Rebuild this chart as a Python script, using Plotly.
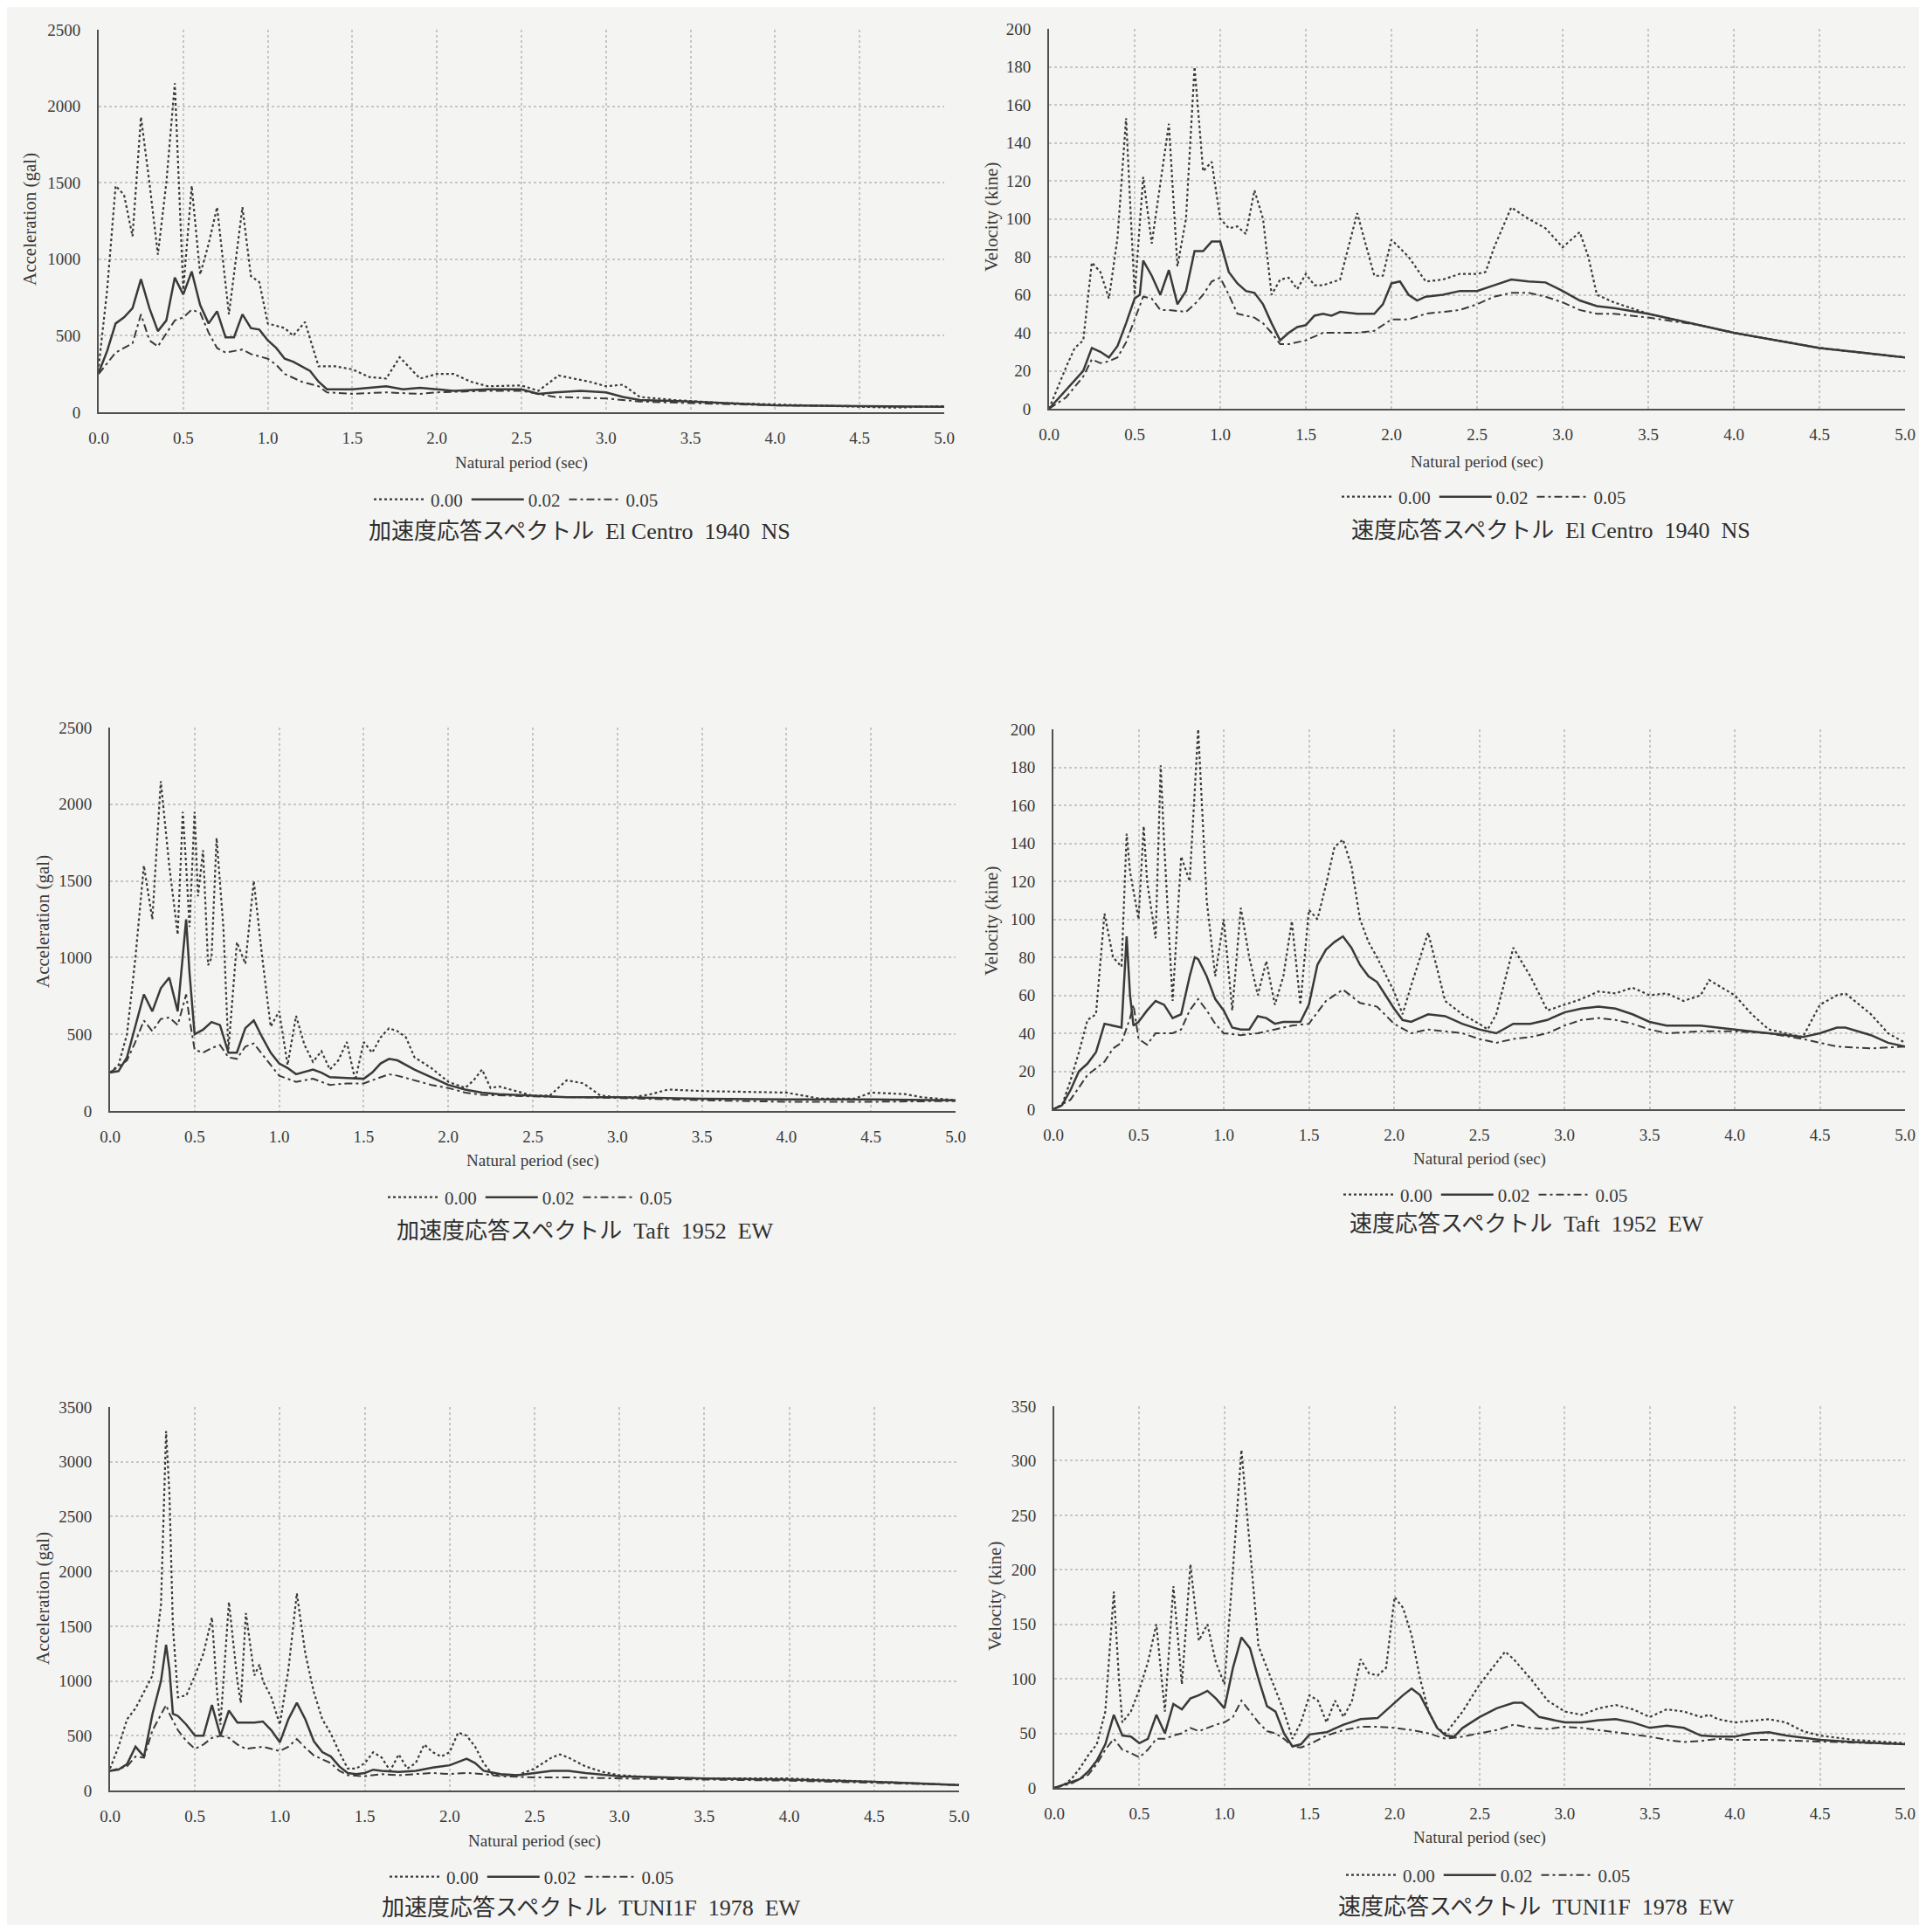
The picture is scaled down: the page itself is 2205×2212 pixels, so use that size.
import plotly.graph_objects as go

# ---------------- data ----------------
# El Centro 1940 NS - acceleration (gal)
EC_ACC_T00 = [0, 0.05, 0.1, 0.15, 0.2, 0.25, 0.3, 0.35, 0.4, 0.45, 0.5, 0.55, 0.6, 0.65, 0.7, 0.77, 0.85, 0.9, 0.95, 1.0,
              1.1, 1.15, 1.22, 1.3, 1.4, 1.5, 1.6, 1.7, 1.78, 1.9, 2.0, 2.1, 2.2, 2.3, 2.5, 2.6, 2.72, 2.9, 3.0, 3.1,
              3.2, 3.4, 3.7, 4.0, 4.3, 4.7, 5.0]
EC_ACC_V00 = [300, 800, 1480, 1420, 1150, 1930, 1500, 1030, 1500, 2150, 800, 1480, 900, 1100, 1340, 640, 1340, 890, 850, 580,
              550, 500, 590, 300, 300, 280, 230, 220, 360, 220, 250, 250, 200, 170, 175, 140, 240, 200, 170, 180,
              100, 80, 60, 50, 40, 30, 40]
EC_ACC_T02 = [0, 0.05, 0.1, 0.15, 0.2, 0.25, 0.3, 0.35, 0.4, 0.45, 0.5, 0.55, 0.6, 0.65, 0.7, 0.75, 0.8, 0.85, 0.9, 0.95,
              1.0, 1.05, 1.1, 1.15, 1.25, 1.3, 1.35, 1.5, 1.6, 1.7, 1.8, 1.9, 2.0, 2.1, 2.3, 2.5, 2.6, 2.7, 2.85, 3.0,
              3.1, 3.2, 3.5, 3.8, 4.0, 4.5, 5.0]
EC_ACC_V02 = [260, 400, 580, 620, 680, 870, 680, 530, 600, 880, 770, 920, 700, 580, 660, 490, 490, 640, 550, 540,
              470, 420, 350, 330, 270, 200, 150, 150, 160, 170, 150, 160, 150, 140, 150, 150, 120, 130, 140, 130,
              100, 80, 70, 55, 45, 40, 35]
EC_ACC_T05 = [0, 0.1, 0.2, 0.25, 0.3, 0.35, 0.45, 0.5, 0.55, 0.6, 0.65, 0.7, 0.75, 0.85, 0.9, 1.0, 1.05, 1.1, 1.2, 1.3,
              1.35, 1.5, 1.7, 1.9, 2.0, 2.3, 2.5, 2.7, 3.0, 3.2, 3.5, 4.0, 4.5, 5.0]
EC_ACC_V05 = [250, 390, 450, 640, 470, 430, 600, 620, 670, 650, 520, 420, 390, 410, 380, 350, 310, 250, 200, 170,
              130, 120, 130, 120, 130, 140, 140, 100, 90, 70, 60, 45, 40, 35]

# El Centro 1940 NS - velocity (kine)
EC_VEL_T00 = [0, 0.1, 0.15, 0.2, 0.25, 0.3, 0.35, 0.4, 0.45, 0.5, 0.55, 0.6, 0.7, 0.75, 0.8, 0.85, 0.9, 0.95, 1.0, 1.05,
              1.1, 1.15, 1.2, 1.25, 1.3, 1.35, 1.4, 1.45, 1.5, 1.55, 1.6, 1.7, 1.8, 1.9, 1.95, 2.0, 2.1, 2.2, 2.3, 2.4,
              2.5, 2.55, 2.6, 2.7, 2.8, 2.9, 3.0, 3.1, 3.15, 3.2, 3.3, 3.5, 3.8, 4.0, 4.25, 4.5, 4.75, 5.0]
EC_VEL_V00 = [0, 22, 32, 36, 77, 72, 58, 90, 153, 60, 122, 87, 150, 75, 100, 180, 125, 130, 100, 95,
              96, 92, 115, 100, 60, 68, 69, 63, 71, 65, 65, 68, 103, 70, 70, 89, 80, 67, 68, 71,
              71, 72, 85, 106, 100, 95, 85, 93, 80, 60, 56, 50, 44, 40, 36, 32, 29.5, 27]
EC_VEL_T02 = [0, 0.1, 0.2, 0.25, 0.3, 0.35, 0.4, 0.45, 0.5, 0.53, 0.55, 0.6, 0.65, 0.7, 0.75, 0.8, 0.85, 0.9, 0.95, 1.0,
              1.05, 1.1, 1.15, 1.2, 1.25, 1.3, 1.35, 1.4, 1.45, 1.5, 1.55, 1.6, 1.65, 1.7, 1.8, 1.9, 1.95, 2.0, 2.05, 2.1,
              2.15, 2.2, 2.3, 2.4, 2.5, 2.6, 2.7, 2.8, 2.9, 3.0, 3.1, 3.2, 3.3, 3.5, 3.8, 4.0, 4.25, 4.5, 4.75, 5.0]
EC_VEL_V02 = [0, 10, 20, 32, 30, 27, 33, 45, 58, 60, 78, 70, 60, 73, 55, 62, 83, 83, 88, 88,
              72, 66, 62, 61, 55, 45, 36, 40, 43, 44, 49, 50, 49, 51, 50, 50, 55, 66, 67, 60,
              57, 59, 60, 62, 62, 65, 68, 67, 66.5, 62, 57, 54, 53, 50, 44, 40, 36, 32, 29.5, 27]
EC_VEL_T05 = [0, 0.1, 0.2, 0.25, 0.3, 0.35, 0.4, 0.45, 0.5, 0.55, 0.6, 0.65, 0.7, 0.8, 0.85, 0.9, 0.95, 1.0, 1.05, 1.1,
              1.2, 1.25, 1.3, 1.35, 1.4, 1.5, 1.6, 1.7, 1.8, 1.9, 2.0, 2.1, 2.2, 2.3, 2.4, 2.5, 2.6, 2.7, 2.8, 2.9,
              3.0, 3.1, 3.2, 3.3, 3.5, 3.8, 4.0, 4.25, 4.5, 4.75, 5.0]
EC_VEL_V05 = [0, 6, 17, 26, 24, 25, 27, 35, 47, 59, 58, 52, 52, 51, 55, 60, 67, 69, 60, 50,
              48, 45, 40, 34, 34, 36, 40, 40, 40, 41, 47, 47, 50, 51, 52, 55, 59, 61, 61, 59,
              56, 52, 50, 50, 48, 44, 40, 36, 32, 29.5, 27]

# Taft 1952 EW - acceleration (gal)
TF_ACC_T00 = [0, 0.05, 0.1, 0.15, 0.2, 0.22, 0.25, 0.3, 0.35, 0.4, 0.43, 0.45, 0.47, 0.5, 0.52, 0.55, 0.58, 0.6, 0.63, 0.67,
              0.7, 0.75, 0.8, 0.85, 0.9, 0.95, 1.0, 1.05, 1.1, 1.15, 1.2, 1.25, 1.3, 1.35, 1.4, 1.45, 1.5, 1.55, 1.6, 1.65,
              1.7, 1.75, 1.8, 1.9, 2.0, 2.1, 2.15, 2.2, 2.25, 2.3, 2.4, 2.5, 2.6, 2.7, 2.8, 2.9, 3.0, 3.1, 3.2, 3.3,
              3.5, 3.7, 4.0, 4.2, 4.4, 4.5, 4.7, 4.8, 5.0]
TF_ACC_V00 = [250, 300, 500, 1000, 1600, 1450, 1250, 2150, 1600, 1150, 1950, 1600, 1200, 1950, 1400, 1700, 950, 1000, 1780, 1200,
              400, 1100, 960, 1500, 1000, 550, 650, 300, 620, 430, 320, 390, 270, 330, 450, 200, 450, 380, 480, 540,
              520, 480, 350, 280, 190, 150, 200, 270, 150, 160, 130, 100, 100, 200, 180, 100, 90, 90, 110, 140,
              130, 125, 120, 80, 80, 120, 110, 90, 70]
TF_ACC_T02 = [0, 0.05, 0.1, 0.15, 0.2, 0.25, 0.3, 0.35, 0.4, 0.45, 0.47, 0.5, 0.55, 0.6, 0.65, 0.7, 0.75, 0.8, 0.85, 0.9,
              0.95, 1.0, 1.05, 1.1, 1.2, 1.25, 1.3, 1.4, 1.5, 1.55, 1.6, 1.65, 1.7, 1.8, 1.9, 2.0, 2.1, 2.2, 2.3, 2.5,
              2.7, 3.0, 3.5, 4.0, 4.5, 5.0]
TF_ACC_V02 = [250, 260, 350, 550, 760, 650, 800, 870, 650, 1250, 900, 500, 530, 580, 560, 380, 380, 540, 590, 480,
              380, 310, 280, 240, 270, 250, 220, 215, 210, 250, 310, 340, 330, 270, 220, 170, 140, 120, 110, 100,
              90, 90, 80, 75, 75, 70]
TF_ACC_T05 = [0, 0.1, 0.15, 0.2, 0.25, 0.3, 0.35, 0.4, 0.45, 0.47, 0.5, 0.55, 0.6, 0.65, 0.7, 0.75, 0.8, 0.85, 0.9, 1.0,
              1.1, 1.2, 1.3, 1.4, 1.5, 1.6, 1.65, 1.7, 1.8, 1.9, 2.0, 2.1, 2.2, 2.5, 3.0, 3.5, 4.0, 4.5, 5.0]
TF_ACC_V05 = [250, 330, 450, 590, 520, 600, 610, 560, 760, 600, 400, 380, 410, 430, 350, 340, 420, 440, 370, 230,
              190, 210, 170, 180, 180, 220, 240, 230, 200, 170, 150, 120, 105, 95, 85, 70, 60, 60, 65]

# Taft 1952 EW - velocity (kine)
TF_VEL_T00 = [0, 0.05, 0.1, 0.15, 0.2, 0.25, 0.3, 0.35, 0.4, 0.43, 0.45, 0.5, 0.53, 0.55, 0.6, 0.63, 0.65, 0.7, 0.75, 0.8,
              0.85, 0.9, 0.95, 1.0, 1.05, 1.1, 1.15, 1.2, 1.25, 1.3, 1.35, 1.4, 1.45, 1.5, 1.55, 1.6, 1.65, 1.7, 1.75, 1.8,
              1.85, 1.9, 2.0, 2.05, 2.1, 2.2, 2.25, 2.3, 2.4, 2.5, 2.55, 2.6, 2.7, 2.8, 2.9, 3.0, 3.1, 3.2, 3.3, 3.4,
              3.5, 3.6, 3.7, 3.8, 3.85, 4.0, 4.1, 4.2, 4.3, 4.4, 4.5, 4.6, 4.65, 4.8, 4.9, 5.0]
TF_VEL_V00 = [0, 2, 15, 30, 47, 50, 103, 80, 75, 145, 125, 100, 149, 120, 90, 181, 140, 57, 133, 120,
              200, 110, 70, 100, 52, 106, 80, 60, 78, 55, 70, 99, 55, 105, 100, 118, 138, 142, 128, 100,
              88, 80, 62, 50, 65, 93, 75, 57, 50, 45, 42, 50, 85, 70, 52, 55, 58, 62, 61, 64,
              60, 61, 57, 60, 68, 60, 50, 42, 40, 38, 55, 60, 61, 50, 40, 35]
TF_VEL_T02 = [0, 0.05, 0.1, 0.15, 0.2, 0.25, 0.3, 0.35, 0.4, 0.43, 0.45, 0.47, 0.5, 0.55, 0.6, 0.65, 0.7, 0.75, 0.8, 0.83,
              0.85, 0.9, 0.95, 1.0, 1.05, 1.1, 1.15, 1.2, 1.25, 1.3, 1.35, 1.45, 1.5, 1.55, 1.6, 1.65, 1.7, 1.75, 1.8, 1.85,
              1.9, 1.95, 2.0, 2.05, 2.1, 2.2, 2.3, 2.4, 2.5, 2.6, 2.7, 2.8, 2.9, 3.0, 3.1, 3.2, 3.3, 3.4, 3.5, 3.6,
              3.8, 4.0, 4.2, 4.4, 4.5, 4.6, 4.65, 4.8, 4.9, 5.0]
TF_VEL_V02 = [0, 2, 10, 20, 24, 30, 45, 44, 43, 91, 60, 44, 46, 52, 57, 55, 48, 50, 70, 80,
              79, 70, 58, 52, 43, 42, 42, 49, 48, 45, 46, 46, 55, 76, 84, 88, 91, 85, 76, 70,
              67, 60, 53, 47, 46, 50, 49, 45, 42, 40, 45, 45, 47, 51, 53, 54, 53, 50, 46, 44,
              44, 42, 40, 38, 40, 43, 43, 39, 35, 33]
TF_VEL_T05 = [0, 0.1, 0.2, 0.3, 0.35, 0.4, 0.45, 0.47, 0.5, 0.55, 0.6, 0.7, 0.75, 0.8, 0.85, 0.9, 0.95, 1.0, 1.1, 1.2,
              1.3, 1.4, 1.5, 1.6, 1.7, 1.8, 1.9, 2.0, 2.1, 2.2, 2.3, 2.4, 2.5, 2.6, 2.7, 2.8, 2.9, 3.0, 3.1, 3.2,
              3.3, 3.4, 3.5, 3.6, 3.8, 4.0, 4.2, 4.4, 4.6, 4.8, 5.0]
TF_VEL_V05 = [0, 5, 18, 25, 32, 35, 48, 55, 37, 34, 40, 40, 42, 52, 58, 52, 45, 40, 39, 40,
              42, 44, 45, 57, 63, 56, 54, 45, 40, 42, 41, 40, 37, 35, 37, 38, 40, 44, 47, 48,
              47, 45, 42, 40, 41, 41, 40, 37, 33, 32, 33]

# TUNI1F 1978 EW - acceleration (gal)
TN_ACC_T00 = [0, 0.05, 0.1, 0.15, 0.2, 0.25, 0.3, 0.33, 0.35, 0.37, 0.4, 0.45, 0.5, 0.55, 0.6, 0.63, 0.65, 0.7, 0.75, 0.77,
              0.8, 0.85, 0.88, 0.9, 0.95, 1.0, 1.05, 1.1, 1.15, 1.2, 1.25, 1.3, 1.35, 1.4, 1.45, 1.5, 1.55, 1.6, 1.65, 1.7,
              1.75, 1.8, 1.85, 1.9, 1.95, 2.0, 2.05, 2.1, 2.15, 2.2, 2.25, 2.3, 2.4, 2.5, 2.6, 2.65, 2.7, 2.8, 2.9, 3.0,
              3.2, 3.5, 4.0, 4.5, 5.0]
TN_ACC_V00 = [200, 400, 650, 750, 900, 1050, 1700, 3280, 2700, 1500, 850, 870, 1050, 1250, 1580, 900, 600, 1720, 1000, 800,
              1620, 1050, 1150, 1000, 850, 600, 1100, 1800, 1250, 900, 650, 520, 350, 200, 200, 250, 350, 300, 180, 330,
              200, 250, 420, 350, 310, 350, 530, 500, 400, 250, 150, 140, 140, 200, 300, 330, 300, 220, 170, 140,
              120, 110, 110, 80, 50]
TN_ACC_T02 = [0, 0.05, 0.1, 0.15, 0.2, 0.25, 0.3, 0.33, 0.35, 0.37, 0.4, 0.45, 0.5, 0.55, 0.6, 0.63, 0.65, 0.7, 0.75, 0.8,
              0.85, 0.9, 0.95, 1.0, 1.05, 1.1, 1.15, 1.2, 1.25, 1.3, 1.35, 1.4, 1.45, 1.5, 1.55, 1.6, 1.7, 1.8, 1.9, 2.0,
              2.05, 2.1, 2.15, 2.2, 2.3, 2.4, 2.5, 2.6, 2.7, 2.8, 3.0, 3.5, 4.0, 4.5, 5.0]
TN_ACC_V02 = [180, 190, 240, 400, 310, 700, 1000, 1330, 1100, 700, 680, 600, 500, 500, 780, 620, 500, 730, 620, 620,
              620, 630, 550, 440, 650, 800, 650, 450, 350, 310, 220, 160, 150, 160, 190, 180, 170, 180, 210, 230,
              260, 290, 250, 180, 150, 140, 160, 180, 180, 160, 130, 110, 100, 80, 50]
TN_ACC_T05 = [0, 0.1, 0.15, 0.2, 0.25, 0.3, 0.33, 0.35, 0.4, 0.45, 0.5, 0.55, 0.6, 0.65, 0.7, 0.75, 0.8, 0.85, 0.9, 1.0,
              1.05, 1.1, 1.15, 1.2, 1.3, 1.35, 1.4, 1.5, 1.6, 1.7, 1.8, 1.9, 2.0, 2.1, 2.2, 2.3, 2.5, 2.7, 3.0, 3.5,
              4.0, 4.5, 5.0]
TN_ACC_V05 = [180, 220, 310, 300, 550, 700, 780, 700, 550, 450, 380, 420, 480, 500, 480, 420, 380, 390, 400, 360,
              400, 470, 390, 320, 250, 180, 140, 130, 150, 140, 150, 160, 150, 160, 150, 130, 120, 120, 110, 100,
              90, 70, 50]

# TUNI1F 1978 EW - velocity (kine)
TN_VEL_T00 = [0, 0.05, 0.1, 0.15, 0.2, 0.25, 0.3, 0.35, 0.38, 0.4, 0.45, 0.5, 0.55, 0.6, 0.65, 0.7, 0.75, 0.8, 0.85, 0.9,
              0.95, 1.0, 1.05, 1.1, 1.15, 1.2, 1.25, 1.3, 1.35, 1.4, 1.45, 1.5, 1.55, 1.6, 1.65, 1.7, 1.75, 1.8, 1.85, 1.9,
              1.95, 2.0, 2.05, 2.1, 2.15, 2.2, 2.25, 2.3, 2.4, 2.5, 2.6, 2.65, 2.7, 2.8, 2.9, 3.0, 3.1, 3.2, 3.3, 3.4,
              3.5, 3.6, 3.7, 3.8, 3.85, 3.9, 4.0, 4.2, 4.3, 4.4, 4.5, 4.7, 5.0]
TN_VEL_V00 = [0, 2, 8, 18, 30, 40, 70, 180, 100, 60, 70, 90, 115, 150, 70, 185, 95, 205, 135, 150,
              115, 95, 200, 310, 220, 130, 110, 90, 70, 45, 60, 85, 80, 60, 80, 65, 80, 118, 105, 103,
              110, 175, 165, 140, 100, 70, 55, 50, 70, 95, 115, 125, 118, 100, 80, 70, 67, 73, 76, 72,
              65, 72, 70, 65, 67, 63, 60, 63, 60, 52, 48, 44, 41]
TN_VEL_T02 = [0, 0.1, 0.15, 0.2, 0.25, 0.3, 0.35, 0.4, 0.45, 0.5, 0.55, 0.6, 0.65, 0.7, 0.75, 0.8, 0.85, 0.9, 0.95, 1.0,
              1.05, 1.1, 1.15, 1.2, 1.25, 1.3, 1.35, 1.4, 1.45, 1.5, 1.6, 1.7, 1.8, 1.9, 2.0, 2.05, 2.1, 2.15, 2.2, 2.25,
              2.3, 2.35, 2.4, 2.5, 2.6, 2.7, 2.75, 2.8, 2.85, 3.0, 3.1, 3.2, 3.3, 3.4, 3.5, 3.6, 3.7, 3.8, 3.9, 4.0,
              4.1, 4.2, 4.3, 4.5, 4.7, 5.0]
TN_VEL_V02 = [0, 5, 8, 15, 25, 40, 67, 48, 47, 41, 45, 67, 50, 77, 72, 82, 85, 89, 82, 73,
              110, 138, 128, 100, 75, 70, 50, 38, 40, 49, 51, 58, 63, 64, 78, 85, 91, 85, 70, 55,
              48, 47, 55, 65, 73, 78, 78, 72, 65, 60, 60, 62, 63, 60, 55, 57, 55, 48, 47, 47,
              50, 51, 48, 44, 42, 40]
TN_VEL_T05 = [0, 0.1, 0.2, 0.25, 0.3, 0.35, 0.4, 0.45, 0.5, 0.55, 0.6, 0.65, 0.7, 0.75, 0.8, 0.85, 0.9, 0.95, 1.0, 1.05,
              1.1, 1.15, 1.2, 1.25, 1.3, 1.35, 1.4, 1.45, 1.5, 1.6, 1.7, 1.8, 1.9, 2.0, 2.1, 2.2, 2.3, 2.4, 2.5, 2.6,
              2.7, 2.8, 2.9, 3.0, 3.1, 3.2, 3.3, 3.4, 3.5, 3.6, 3.7, 3.8, 3.9, 4.0, 4.2, 4.4, 4.6, 4.8, 5.0]
TN_VEL_V05 = [0, 4, 12, 22, 35, 45, 35, 32, 28, 35, 45, 45, 48, 50, 55, 52, 55, 58, 60, 65,
              80, 70, 60, 52, 50, 45, 38, 37, 40, 48, 53, 56, 56, 55, 53, 50, 45, 47, 50, 53,
              58, 55, 54, 56, 55, 53, 51, 49, 47, 44, 42, 43, 45, 44, 44, 43, 42, 41, 40]

DAMPING_LABELS = ["0.00", "0.02", "0.05"]
X_TICKS = [0, 0.5, 1.0, 1.5, 2.0, 2.5, 3.0, 3.5, 4.0, 4.5, 5.0]
X_TITLE = "Natural period (sec)"
Y_TITLE_ACC = "Acceleration (gal)"
Y_TITLE_VEL = "Velocity (kine)"
TITLES = ["加速度応答スペクトル  El Centro  1940  NS",
          "速度応答スペクトル  El Centro  1940  NS",
          "加速度応答スペクトル  Taft  1952  EW",
          "速度応答スペクトル  Taft  1952  EW",
          "加速度応答スペクトル  TUNI1F  1978  EW",
          "速度応答スペクトル  TUNI1F  1978  EW"]
Y_MAX = [2500, 200, 2500, 200, 3500, 350]
Y_STEP = [500, 20, 500, 20, 500, 50]

SERIES = [
    [(EC_ACC_T00, EC_ACC_V00), (EC_ACC_T02, EC_ACC_V02), (EC_ACC_T05, EC_ACC_V05)],
    [(EC_VEL_T00, EC_VEL_V00), (EC_VEL_T02, EC_VEL_V02), (EC_VEL_T05, EC_VEL_V05)],
    [(TF_ACC_T00, TF_ACC_V00), (TF_ACC_T02, TF_ACC_V02), (TF_ACC_T05, TF_ACC_V05)],
    [(TF_VEL_T00, TF_VEL_V00), (TF_VEL_T02, TF_VEL_V02), (TF_VEL_T05, TF_VEL_V05)],
    [(TN_ACC_T00, TN_ACC_V00), (TN_ACC_T02, TN_ACC_V02), (TN_ACC_T05, TN_ACC_V05)],
    [(TN_VEL_T00, TN_VEL_V00), (TN_VEL_T02, TN_VEL_V02), (TN_VEL_T05, TN_VEL_V05)],
]

# ---------------- layout geometry (pixels of the 2205x2212 page) ----------------
PAGE_W, PAGE_H = 2205, 2212
OFF = 8                                  # default body margin of the html page
W, H = PAGE_W - 2 * OFF, PAGE_H - 2 * OFF
BOXES = [(113, 1081, 34, 472), (1201, 2181, 33, 468),
         (126, 1094, 833, 1272), (1206, 2181, 835, 1270),
         (126, 1098, 1611, 2050), (1207, 2181, 1610, 2047)]
YTITLE_POS = [(34, 251), (1135, 249), (49, 1055), (1135, 1055), (49, 1830), (1139, 1828)]
XTITLE_Y = [530, 529, 1329, 1327, 2108, 2104]
LEGEND_POS = [(591, 572), (1699, 569), (607, 1371), (1701, 1368), (609, 2149), (1704, 2147)]
TITLE_POS = [(663, 609), (1775, 607), (670, 1409), (1748, 1401), (677, 2184), (1759, 2183)]

BG = "#f4f4f2"
INK = "#3a3a3a"
GRID = "#c6c6c6"
SERIF = "Liberation Serif, DejaVu Serif, serif"
TITLE_FONT = "Liberation Serif, Noto Sans CJK JP, serif"
STYLES = [dict(dash="dot", width=2.2), dict(dash="solid", width=2.5), dict(dash="9px,4px,3px,4px", width=2.0)]


def fx(p):
    return min(1.0, max(0.0, (p - OFF) / W))


def fy(p):
    return min(1.0, max(0.0, 1 - (p - OFF) / H))


fig = go.Figure()
annotations = []
layout = dict(width=W, height=H, margin=dict(l=0, r=0, t=0, b=0, pad=0, autoexpand=False),
              paper_bgcolor=BG, plot_bgcolor=BG, showlegend=True)

for i in range(6):
    n = "" if i == 0 else str(i + 1)
    xa, ya = "x" + n, "y" + n
    leg = "legend" + n
    x0, x1, y0, y1 = BOXES[i]
    for k, (tx, vy) in enumerate(SERIES[i]):
        fig.add_trace(go.Scatter(x=tx, y=vy, mode="lines", name=DAMPING_LABELS[k],
                                 line=dict(color=INK, **STYLES[k]), xaxis=xa, yaxis=ya,
                                 legend=leg, showlegend=True, hoverinfo="skip"))
    layout["xaxis" + n] = dict(domain=[fx(x0), fx(x1)], anchor=ya, range=[0, 5], automargin=False,
                               tickvals=X_TICKS, ticktext=[f"{v:.1f}" for v in X_TICKS],
                               ticklabeloverflow="allow",
                               showgrid=True, gridcolor=GRID, griddash="dot", gridwidth=1.5,
                               showline=True, linecolor="#505050", linewidth=2, zeroline=False,
                               ticks="", ticklabelstandoff=11,
                               tickfont=dict(family=SERIF, size=19, color=INK))
    yticks = list(range(0, Y_MAX[i] + 1, Y_STEP[i]))
    layout["yaxis" + n] = dict(domain=[fy(y1), fy(y0)], anchor=xa, range=[0, Y_MAX[i]], automargin=False,
                               tickvals=yticks, showgrid=True, gridcolor=GRID, griddash="dot",
                               gridwidth=1.5, showline=True, linecolor="#505050", linewidth=2,
                               zeroline=False, ticks="", ticklabelstandoff=15,
                               tickfont=dict(family=SERIF, size=19, color=INK))
    lx, ly = LEGEND_POS[i]
    layout[leg] = dict(x=fx(lx), y=fy(ly), xanchor="center", yanchor="middle",
                       orientation="h", bgcolor="rgba(0,0,0,0)", itemwidth=60,
                       font=dict(family=SERIF, size=21, color=INK), itemclick=False)
    # axis titles and chart titles
    annotations.append(dict(text=X_TITLE, x=fx((x0 + x1) / 2), y=fy(XTITLE_Y[i]), xref="paper", yref="paper",
                            showarrow=False, xanchor="center", yanchor="middle",
                            font=dict(family=SERIF, size=19, color=INK)))
    tx_, ty_ = YTITLE_POS[i]
    annotations.append(dict(text=Y_TITLE_ACC if i % 2 == 0 else Y_TITLE_VEL, x=fx(tx_), y=fy(ty_),
                            xref="paper", yref="paper", showarrow=False, textangle=-90,
                            xanchor="center", yanchor="middle",
                            font=dict(family=SERIF, size=21, color=INK)))
    px_, py_ = TITLE_POS[i]
    annotations.append(dict(text=TITLES[i], x=fx(px_), y=fy(py_), xref="paper", yref="paper",
                            showarrow=False, xanchor="center", yanchor="middle",
                            font=dict(family=TITLE_FONT, size=26, color="#2e2e2e")))

layout["annotations"] = annotations
fig.update_layout(**layout)
fig.write_html("out.html")
